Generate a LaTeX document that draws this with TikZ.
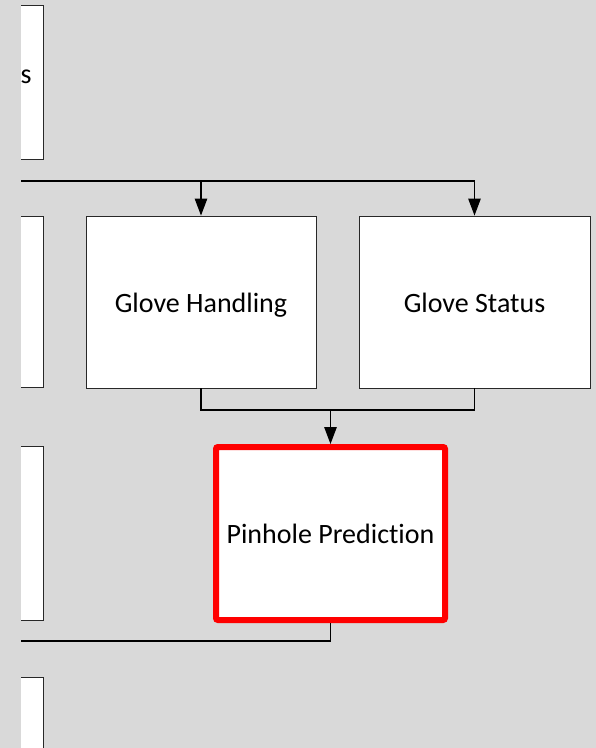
\documentclass[tikz,border=0pt]{standalone}
\usepackage{fontspec}
\setmainfont{Carlito}[Ligatures=NoCommon]
\usepackage{tikz}
\usetikzlibrary{positioning,arrows.meta,calc}
\definecolor{canvas}{RGB}{217,217,217}
\definecolor{framegray}{RGB}{40,40,40}
\definecolor{alertred}{RGB}{255,0,0}
\tikzset{
  box/.style={draw=framegray, line width=0.9pt, fill=white, inner sep=0pt,
              align=center, font=\fontsize{28}{33}\selectfont,
              text height=20pt, text depth=0pt},
  sidebox/.style={box, minimum width=100pt},
  alertbox/.style={box, draw=alertred, line width=6pt, rounded corners=2pt},
  link/.style={line width=1.2pt},
  arrow/.style={link, -{Triangle[length=17pt,width=12.5pt]}},
}
\begin{document}
\begin{tikzpicture}[x=1pt,y=-1pt]
  \useasboundingbox (0,0) rectangle (596,748);
  \fill[canvas] (0,0) rectangle (596,748);

  \begin{scope}
    \clip (21,0) rectangle (596,748);

    % column of boxes cut off at the left
    \node[sidebox, minimum height=154pt] (l1) at (-7,82)    {};
    \node[sidebox, minimum height=171pt] (l2) at (-7,301.5) {};
    \node[sidebox, minimum height=174pt] (l3) at (-7,533)   {};
    \node[sidebox, minimum height=140pt] (l4) at (-7,747)   {};
    \node[font=\fontsize{28}{33}\selectfont, anchor=base west, inner sep=0pt]
      (l1lbl) at (20.5,83) {s};

    % glove boxes and the prediction
    \node[box, minimum width=230pt, minimum height=172pt] (gh) at (201,302)   {Glove Handling};
    \node[box, minimum width=231pt, minimum height=172pt] (gs) at (474.5,302) {Glove Status};
    \node[alertbox, minimum width=229pt, minimum height=173pt] (pp) at (330.5,533.5) {Pinhole Prediction};

    \coordinate (in1)  at (21,181);
    \coordinate (join) at ($(pp.north)+(0,-34)$);
    \coordinate (out1) at (21,641);

    \draw[arrow] (in1) -| (gs.north);
    \draw[arrow] (gh.north |- in1) -- (gh.north);
    \draw[link]  (gh.south) |- (join) -| (gs.south);
    \draw[arrow] (join) -- (pp.north);
    \draw[link]  (pp.south) |- (out1);
  \end{scope}
\end{tikzpicture}
\end{document}
